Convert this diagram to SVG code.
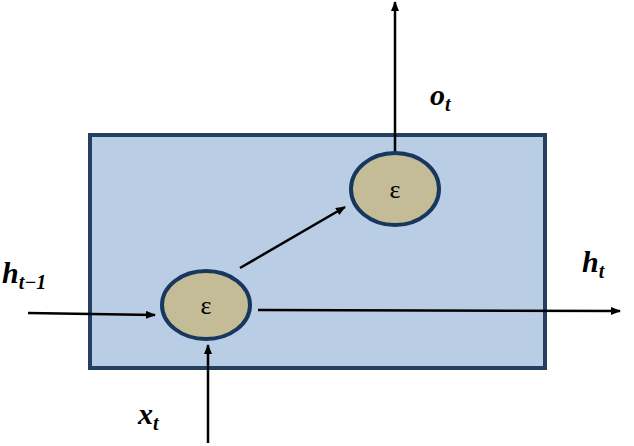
<svg xmlns="http://www.w3.org/2000/svg" width="634" height="446" viewBox="0 0 634 446">
<style>
.n{fill:#c4bc96;stroke:#17375e;stroke-width:4}
.l{stroke:#000;stroke-width:2.5;fill:none;marker-end:url(#a)}
.t{font-family:"Liberation Serif",serif;font-style:italic;font-weight:bold;font-size:30px}
.s{font-family:"Liberation Serif",serif;font-style:italic;font-weight:bold;font-size:20px}
.e{font-family:"Liberation Serif",serif;font-size:26px;text-anchor:middle}
</style>
<defs><marker id="a" markerWidth="10" markerHeight="8" refX="9" refY="4" orient="auto" markerUnits="userSpaceOnUse"><path d="M0,0L10,4L0,8z" fill="#000"/></marker></defs>
<rect x="90" y="135" width="455" height="233" fill="#b9cde5" stroke="#243f60" stroke-width="4"/>
<g id="connectors">
<line class="l" x1="28" y1="313" x2="155" y2="315"/>
<line class="l" x1="208" y1="443" x2="208" y2="345"/>
<line class="l" x1="240" y1="268" x2="345" y2="207"/>
<line class="l" x1="395" y1="153" x2="395" y2="2"/>
<line class="l" x1="258" y1="310" x2="620" y2="311"/>
</g>
<g id="n1"><ellipse class="n" cx="206" cy="305" rx="44" ry="34"/><text class="e" x="206" y="314">ε</text></g>
<g id="n2"><ellipse class="n" cx="395" cy="189" rx="44" ry="36"/><text class="e" x="395" y="198">ε</text></g>
<text class="t" x="2" y="283">h<tspan class="s" dy="6">t−1</tspan></text>
<text class="t" x="430" y="105">o<tspan class="s" dy="6">t</tspan></text>
<text class="t" x="582" y="272">h<tspan class="s" dy="6">t</tspan></text>
<text class="t" x="138" y="424">x<tspan class="s" dy="6">t</tspan></text>
</svg>
